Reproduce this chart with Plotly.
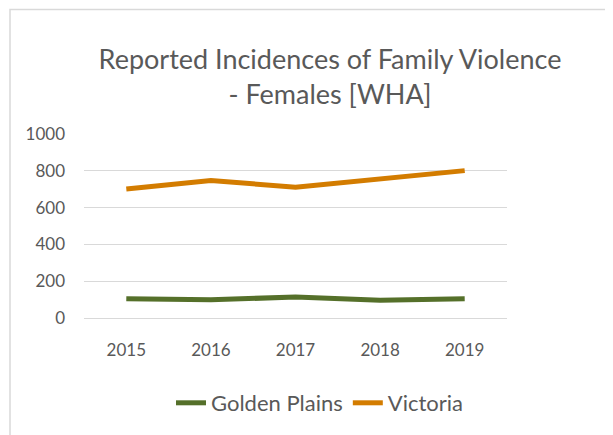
import plotly.graph_objects as go

# Data
years = ["2015", "2016", "2017", "2018", "2019"]
golden_plains = [105, 99, 114, 96, 105]
victoria = [701, 747, 711, 757, 801]

W, H = 613, 435
OFF = 8  # page body margin in the browser
L, T = 84 - OFF, 134 - OFF
pw, ph = 423, 184
R, B = W - L - pw, H - T - ph

GREEN = "#55702A"
ORANGE = "#D37C00"
GREY = "#595959"
FONT = "Lato"

fig = go.Figure()
fig.add_trace(go.Scatter(x=years, y=golden_plains, name="Golden Plains", mode="lines",
                         line=dict(color=GREEN, width=5)))
fig.add_trace(go.Scatter(x=years, y=victoria, name="Victoria", mode="lines",
                         line=dict(color=ORANGE, width=5)))

# chart border (Excel style frame)
fig.add_shape(type="rect", xref="paper", yref="paper",
              x0=(10 - OFF - L) / pw, x1=(W + 20 - L) / pw,
              y0=(T + ph - (H + 20)) / ph, y1=(T + ph - (9.5 - OFF)) / ph,
              line=dict(color="#D9D9D9", width=1.5), layer="below")

fig.update_layout(
    width=W, height=H,
    margin=dict(l=L, r=R, t=T, b=B, autoexpand=False),
    paper_bgcolor="white", plot_bgcolor="white",
    font=dict(family=FONT, color=GREY, size=17),
    title=dict(text="Reported Incidences of Family Violence<br>- Females [WHA]",
               x=(330 - OFF) / W, xanchor="center", xref="container",
               y=1 - 61 / H, yanchor="top", yref="container",
               font=dict(family=FONT, size=27, color=GREY)),
    showlegend=True,
    legend=dict(orientation="h", x=(320 - OFF - L) / pw, xanchor="center",
                y=(T + ph - (403 - OFF)) / ph, yanchor="middle",
                font=dict(family=FONT, size=22, color=GREY)),
    xaxis=dict(range=[-0.5, 4.5], showgrid=False, showline=False, ticks="",
               ticklabelstandoff=20, tickfont=dict(size=17, color=GREY)),
    yaxis=dict(range=[0, 1000], dtick=200, showgrid=True, gridcolor="#D9D9D9",
               gridwidth=1, zeroline=True, zerolinecolor="#D9D9D9", zerolinewidth=1,
               showline=False, ticks="", ticklabelstandoff=18,
               tickfont=dict(size=17, color=GREY)),
)

fig.write_html("out.html")
